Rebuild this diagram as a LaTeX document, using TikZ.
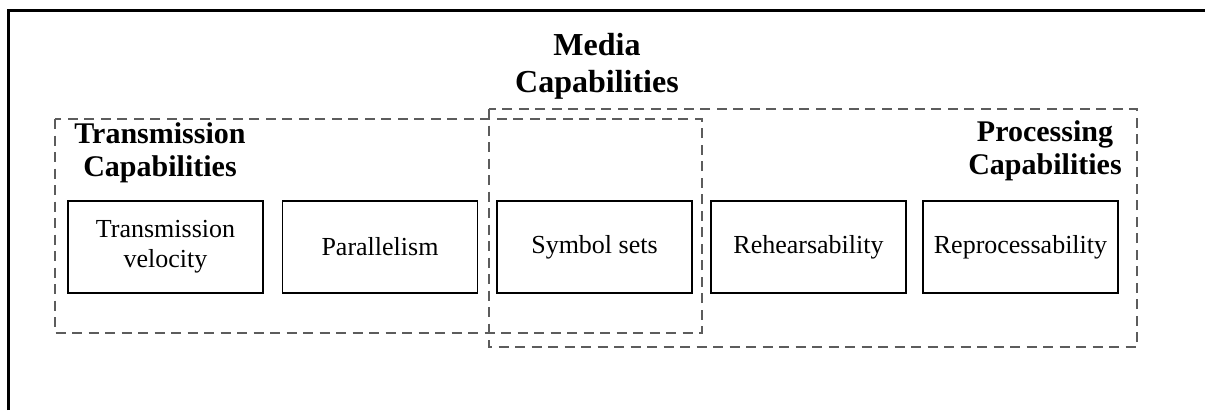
\documentclass[tikz,border=0pt]{standalone}
\usepackage{fontspec}
\setmainfont{Liberation Serif}
\usepackage{tikz}
\definecolor{dashgray}{RGB}{92,92,92}
\tikzset{hd/.style={font=\fontsize{30}{33}\selectfont\bfseries, align=center, inner sep=0pt}}
\tikzset{bx/.style={draw, line width=1.8pt, minimum width=195pt, minimum height=92pt, align=center, font=\fontsize{26}{30}\selectfont}}
\tikzset{grp/.style={draw=dashgray, line width=2.7pt, dash pattern=on 10pt off 6.5pt}}

\begin{document}
\begin{tikzpicture}[x=1pt, y=-1pt, line join=miter]
            \useasboundingbox (0,0) rectangle (1205,410);
            % frame
            \draw[line width=3pt] (8.5,410) -- (8.5,10.5) -- (1205,10.5);
            % dashed groups
            \draw[grp] (55,119) rectangle (702,333);
            \draw[grp] (489,109) rectangle (1137,347);
            % headings
            \node[hd, font=\fontsize{32}{37}\selectfont\bfseries] (media) at (597,66) {Media\\Capabilities};
            \node[hd] (trans) at (160,153) {Transmission\\Capabilities};
            \node[hd] (proc) at (1045,151) {Processing\\Capabilities};
            % capability boxes
            \node[bx] (velo) at (165.5,247) {Transmission\\velocity};
            \node[bx] (para) at (380,247) {Parallelism};
            \node[bx] (symb) at (594.5,247) {Symbol sets};
            \node[bx] (rehe) at (808.5,247) {Rehearsability};
            \node[bx] (repr) at (1020.5,247) {Reprocessability};
          \end{tikzpicture}
\end{document}
